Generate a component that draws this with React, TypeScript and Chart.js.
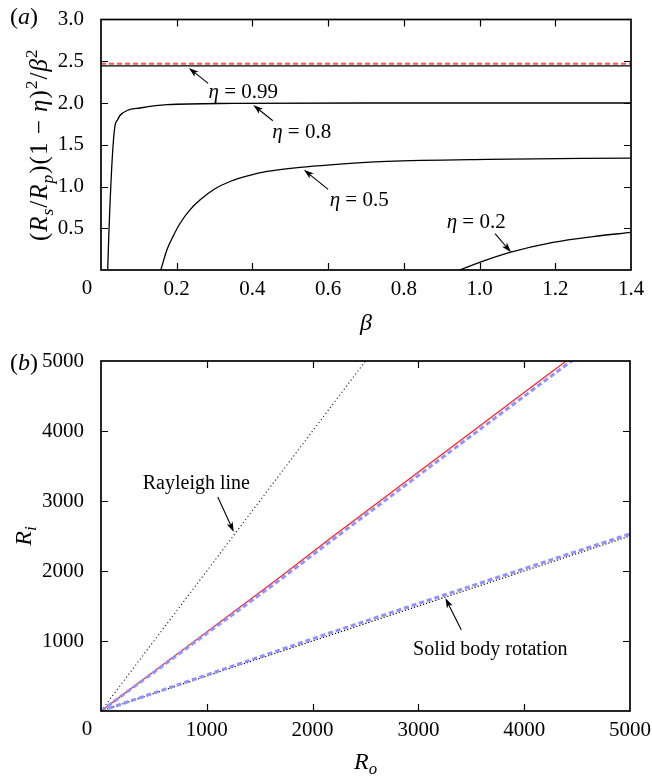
import React, { useEffect, useRef } from 'react';
import { Chart, registerables } from 'chart.js';

Chart.register(...registerables);

const SERIF = '"Liberation Serif", "Times New Roman", serif';

// ---------------- Panel (a) data ----------------
const A_BETA_099 = [0, 1.4];
const A_VAL_099_BLACK = [2.445, 2.445];
const A_VAL_099_RED = [2.47, 2.47];

const A_BETA_08 = [0.0177, 0.0205, 0.024, 0.028, 0.032, 0.037, 0.044, 0.05, 0.069, 0.103, 0.174, 0.349, 0.7, 1.4];
const A_VAL_08 = [0, 0.4, 0.82, 1.2, 1.5, 1.73, 1.8, 1.85, 1.91, 1.94, 1.98, 1.995, 2.0, 2.0];

const A_BETA_05 = [0.158, 0.174, 0.19, 0.209, 0.235, 0.262, 0.3, 0.341, 0.39, 0.439, 0.526, 0.605, 0.755, 1.02, 1.4];
const A_VAL_05 = [0, 0.24, 0.4, 0.56, 0.72, 0.84, 0.97, 1.06, 1.13, 1.18, 1.23, 1.26, 1.3, 1.325, 1.34];

const A_BETA_02 = [0.948, 1.0, 1.08, 1.194, 1.3, 1.4];
const A_VAL_02 = [0, 0.09, 0.21, 0.33, 0.4, 0.45];

const A_ETA_LABELS = ['0.99', '0.8', '0.5', '0.2'];

// ---------------- Panel (b) data ----------------
const B_RO_RAYLEIGH = [0, 2600];
const B_RI_RAYLEIGH = [0, 5200];

const B_RO_RED = [0, 1657, 2160, 4157, 4500];
const B_RI_RED = [0, 1871, 2457, 4729, 5115];

const B_RO_BLUE_UP = [0, 1689, 2160, 4204, 4550];
const B_RI_BLUE_UP = [0, 1871, 2414, 4729, 5115];

const B_RO_SOLID = [0, 5000];
const B_RI_SOLID = [0, 2500];

const B_RO_BLUE_LOW = [0, 2160, 3670, 5000];
const B_RI_BLUE_LOW = [0, 1114, 1871, 2529];

const B_NOTE_LABELS = ['Rayleigh line', 'Solid body rotation'];

// ---------------- helpers ----------------
type Seg = { t: string; i?: boolean; v?: 'sub' | 'sup' };

const pts = (xs: number[], ys: number[]) => xs.map((x, k) => ({ x, y: ys[k] }));

function fontOf(size: number, italic?: boolean) {
  return `${italic ? 'italic ' : ''}${size}px ${SERIF}`;
}
function segSize(s: Seg, size: number) {
  return s.v ? size * 0.7 : size;
}
function measureRich(ctx: CanvasRenderingContext2D, segs: Seg[], size: number) {
  let w = 0;
  for (const s of segs) {
    ctx.font = fontOf(segSize(s, size), s.i);
    w += ctx.measureText(s.t).width;
  }
  return w;
}
function drawRich(
  ctx: CanvasRenderingContext2D,
  segs: Seg[],
  x: number,
  cy: number,
  size: number,
  align: 'left' | 'center' | 'right' = 'center'
) {
  const w = measureRich(ctx, segs, size);
  let cx = align === 'center' ? x - w / 2 : align === 'right' ? x - w : x;
  const baseline = cy + size * 0.33;
  ctx.textAlign = 'left';
  ctx.textBaseline = 'alphabetic';
  ctx.fillStyle = '#000';
  for (const s of segs) {
    const sz = segSize(s, size);
    ctx.font = fontOf(sz, s.i);
    const dy = s.v === 'sub' ? size * 0.22 : s.v === 'sup' ? -size * 0.4 : 0;
    ctx.fillText(s.t, cx, baseline + dy);
    cx += ctx.measureText(s.t).width;
  }
}

function arrow(ctx: CanvasRenderingContext2D, x1: number, y1: number, x2: number, y2: number) {
  const ang = Math.atan2(y2 - y1, x2 - x1);
  const hl = 10;
  const hw = 3.2;
  ctx.strokeStyle = '#000';
  ctx.lineWidth = 1.1;
  ctx.setLineDash([]);
  ctx.beginPath();
  ctx.moveTo(x1, y1);
  ctx.lineTo(x2 - Math.cos(ang) * hl * 0.6, y2 - Math.sin(ang) * hl * 0.6);
  ctx.stroke();
  ctx.fillStyle = '#000';
  ctx.beginPath();
  ctx.moveTo(x2, y2);
  ctx.lineTo(x2 - Math.cos(ang) * hl - Math.sin(ang) * hw, y2 - Math.sin(ang) * hl + Math.cos(ang) * hw);
  ctx.lineTo(x2 - Math.cos(ang) * hl * 0.75, y2 - Math.sin(ang) * hl * 0.75);
  ctx.lineTo(x2 - Math.cos(ang) * hl + Math.sin(ang) * hw, y2 - Math.sin(ang) * hl - Math.cos(ang) * hw);
  ctx.closePath();
  ctx.fill();
}

type Note = { segs: Seg[]; tx: number; ty: number; fx: number; fy: number; hx: number; hy: number };

type Decor = {
  panel: Seg[];
  panelX: number;
  panelY: number;
  xTitle: Seg[];
  xTitleOffset: number;
  yTitle: Seg[];
  yTitleX: number;
  yTitleSize: number;
  yTitleSpacing: number;
  notes: Note[];
  noteSize: number;
};

function makeDecorPlugin(id: string, d: Decor) {
  return {
    id,
    afterDraw(chart: any) {
      const ctx: CanvasRenderingContext2D = chart.ctx;
      const { left, right, top, bottom } = chart.chartArea;
      const xs = chart.scales.x;
      const ys = chart.scales.y;
      ctx.save();
      ctx.setLineDash([]);
      ctx.strokeStyle = '#000';
      ctx.lineWidth = 1.2;
      const tl = 7;
      for (const t of xs.ticks) {
        if (t.value <= xs.min || t.value >= xs.max) continue;
        const px = Math.round(xs.getPixelForValue(t.value)) + 0.5;
        ctx.beginPath();
        ctx.moveTo(px, bottom);
        ctx.lineTo(px, bottom - tl);
        ctx.moveTo(px, top);
        ctx.lineTo(px, top + tl);
        ctx.stroke();
      }
      for (const t of ys.ticks) {
        if (t.value <= ys.min || t.value >= ys.max) continue;
        const py = Math.round(ys.getPixelForValue(t.value)) + 0.5;
        ctx.beginPath();
        ctx.moveTo(left, py);
        ctx.lineTo(left + tl, py);
        ctx.moveTo(right, py);
        ctx.lineTo(right - tl, py);
        ctx.stroke();
      }
      ctx.lineWidth = 1.7;
      ctx.strokeRect(left, top, right - left, bottom - top);

      // shared corner zero
      ctx.fillStyle = '#000';
      ctx.font = fontOf(21);
      ctx.textAlign = 'center';
      ctx.textBaseline = 'alphabetic';
      ctx.fillText('0', left - 14, bottom + 24);

      // panel label
      drawRich(ctx, d.panel, d.panelX, d.panelY, 24);
      // x title
      drawRich(ctx, d.xTitle, (left + right) / 2, bottom + d.xTitleOffset, 24);
      // y title
      ctx.save();
      ctx.translate(d.yTitleX, (top + bottom) / 2);
      ctx.rotate(-Math.PI / 2);
      (ctx as any).letterSpacing = d.yTitleSpacing + 'px';
      drawRich(ctx, d.yTitle, 0, -2, d.yTitleSize);
      (ctx as any).letterSpacing = '0px';
      ctx.restore();

      // annotations
      for (const n of d.notes) {
        drawRich(ctx, n.segs, xs.getPixelForValue(n.tx), ys.getPixelForValue(n.ty), d.noteSize);
        arrow(
          ctx,
          xs.getPixelForValue(n.fx),
          ys.getPixelForValue(n.fy),
          xs.getPixelForValue(n.hx),
          ys.getPixelForValue(n.hy)
        );
      }
      ctx.restore();
    },
  };
}

function lineDs(data: { x: number; y: number }[], color: string, width: number, dash: number[], order: number, smooth = false) {
  return {
    data,
    borderColor: color,
    backgroundColor: color,
    borderWidth: width,
    borderDash: dash,
    showLine: true,
    pointRadius: 0,
    pointHoverRadius: 0,
    fill: false,
    order,
    cubicInterpolationMode: smooth ? 'monotone' : 'default',
    tension: 0,
  };
}

function baseOptions(
  xmin: number,
  xmax: number,
  xstep: number,
  ymin: number,
  ymax: number,
  ystep: number,
  fmt: (v: number) => string,
  padTop: number,
  xAxisH: number
) {
  const tickFont = { family: SERIF, size: 21, lineHeight: 1 };
  return {
    responsive: false,
    animation: false,
    devicePixelRatio: 1,
    events: [],
    layout: { padding: { left: 0, right: 21, top: padTop, bottom: 0 } },
    plugins: { legend: { display: false }, tooltip: { enabled: false }, title: { display: false } },
    scales: {
      x: {
        type: 'linear',
        min: xmin,
        max: xmax,
        grid: { display: false },
        border: { display: false },
        ticks: {
          stepSize: xstep,
          autoSkip: false,
          maxRotation: 0,
          color: '#000',
          font: tickFont,
          padding: 1,
          callback: (v: number) => (Math.abs(v) < 1e-9 ? '' : fmt(v)),
        },
        afterFit: (s: any) => {
          s.height = xAxisH;
        },
      },
      y: {
        type: 'linear',
        min: ymin,
        max: ymax,
        grid: { display: false },
        border: { display: false },
        ticks: {
          stepSize: ystep,
          autoSkip: false,
          color: '#000',
          font: tickFont,
          padding: 9,
          callback: (v: number) => (Math.abs(v) < 1e-9 ? '' : fmt(v)),
        },
        afterFit: (s: any) => {
          s.width = 101;
        },
      },
    },
  };
}

const eta = (v: string): Seg[] => [{ t: 'η', i: true }, { t: ' = ' + v }];

export default function App() {
  const refA = useRef<HTMLCanvasElement>(null);
  const refB = useRef<HTMLCanvasElement>(null);

  useEffect(() => {
    const black = '#000';
    const red = 'rgb(255,30,30)';
    const pink = 'rgb(255,85,85)';
    const blue = 'rgb(145,145,255)';

    const decorA: Decor = {
      panel: [{ t: '(' }, { t: 'a', i: true }, { t: ')' }],
      panelX: 24,
      panelY: 16,
      xTitle: [{ t: 'β', i: true }],
      xTitleOffset: 52,
      yTitle: [
        { t: '(' },
        { t: 'R', i: true },
        { t: 's', i: true, v: 'sub' },
        { t: '/' },
        { t: 'R', i: true },
        { t: 'p', i: true, v: 'sub' },
        { t: ')(1 − ' },
        { t: 'η', i: true },
        { t: ')' },
        { t: '2', v: 'sup' },
        { t: '/' },
        { t: 'β', i: true },
        { t: '2', v: 'sup' },
      ],
      yTitleX: 41,
      yTitleSize: 25,
      yTitleSpacing: 1,
      noteSize: 21,
      notes: [
        { segs: eta(A_ETA_LABELS[0]), tx: 0.376, ty: 2.147, fx: 0.283, fy: 2.235, hx: 0.232, hy: 2.42 },
        { segs: eta(A_ETA_LABELS[1]), tx: 0.53, ty: 1.665, fx: 0.454, fy: 1.788, hx: 0.402, hy: 1.976 },
        { segs: eta(A_ETA_LABELS[2]), tx: 0.682, ty: 0.853, fx: 0.6, fy: 0.965, hx: 0.536, hy: 1.2 },
        { segs: eta(A_ETA_LABELS[3]), tx: 0.991, ty: 0.588, fx: 1.041, fy: 0.435, hx: 1.083, hy: 0.212 },
      ],
    };

    const decorB: Decor = {
      panel: [{ t: '(' }, { t: 'b', i: true }, { t: ')' }],
      panelX: 24,
      panelY: 22,
      xTitle: [{ t: 'R', i: true }, { t: 'o', i: true, v: 'sub' }],
      xTitleOffset: 50,
      yTitle: [{ t: 'R', i: true }, { t: 'i', i: true, v: 'sub' }],
      yTitleX: 25,
      yTitleSize: 24,
      yTitleSpacing: 0,
      noteSize: 20,
      notes: [
        { segs: [{ t: B_NOTE_LABELS[0] }], tx: 901, ty: 3271, fx: 1104, fy: 3057, hx: 1255, hy: 2557 },
        { segs: [{ t: B_NOTE_LABELS[1] }], tx: 3679, ty: 900, fx: 3406, fy: 1157, hx: 3255, hy: 1614 },
      ],
    };

    const optsA: any = baseOptions(0, 1.4, 0.2, 0, 3, 0.5, (v) => v.toFixed(1), 15, 70);
    const optsB: any = baseOptions(0, 5000, 1000, 0, 5000, 1000, (v) => String(Math.round(v)), 21, 65);

    const chartA = new Chart(refA.current as HTMLCanvasElement, {
      type: 'scatter',
      data: {
        datasets: [
          lineDs(pts(A_BETA_099, A_VAL_099_RED), pink, 2, [5, 3], 1),
          lineDs(pts(A_BETA_099, A_VAL_099_BLACK), black, 1.3, [], 2),
          lineDs(pts(A_BETA_08, A_VAL_08), black, 1.3, [], 3, true),
          lineDs(pts(A_BETA_05, A_VAL_05), black, 1.3, [], 4, true),
          lineDs(pts(A_BETA_02, A_VAL_02), black, 1.3, [], 5, true),
        ] as any,
      },
      options: optsA,
      plugins: [makeDecorPlugin('decorA', decorA)],
    });

    const chartB = new Chart(refB.current as HTMLCanvasElement, {
      type: 'scatter',
      data: {
        datasets: [
          lineDs(pts(B_RO_BLUE_UP, B_RI_BLUE_UP), blue, 3, [5, 3], 1),
          lineDs(pts(B_RO_BLUE_LOW, B_RI_BLUE_LOW), blue, 3, [5, 3], 2),
          lineDs(pts(B_RO_RED, B_RI_RED), red, 1.2, [], 3),
          lineDs(pts(B_RO_SOLID, B_RI_SOLID), black, 1.2, [1.2, 2], 4),
          lineDs(pts(B_RO_RAYLEIGH, B_RI_RAYLEIGH), '#222', 1.1, [1.2, 2.6], 5),
        ] as any,
      },
      options: optsB,
      plugins: [makeDecorPlugin('decorB', decorB)],
    });

    return () => {
      chartA.destroy();
      chartB.destroy();
    };
  }, []);

  return (
    <div style={{ position: 'absolute', left: 0, top: 0, width: 652, height: 776, background: '#fff' }}>
      <canvas ref={refA} width={652} height={340} style={{ position: 'absolute', left: 0, top: 0, width: 652, height: 340 }} />
      <canvas ref={refB} width={652} height={436} style={{ position: 'absolute', left: 0, top: 340, width: 652, height: 436 }} />
    </div>
  );
}
